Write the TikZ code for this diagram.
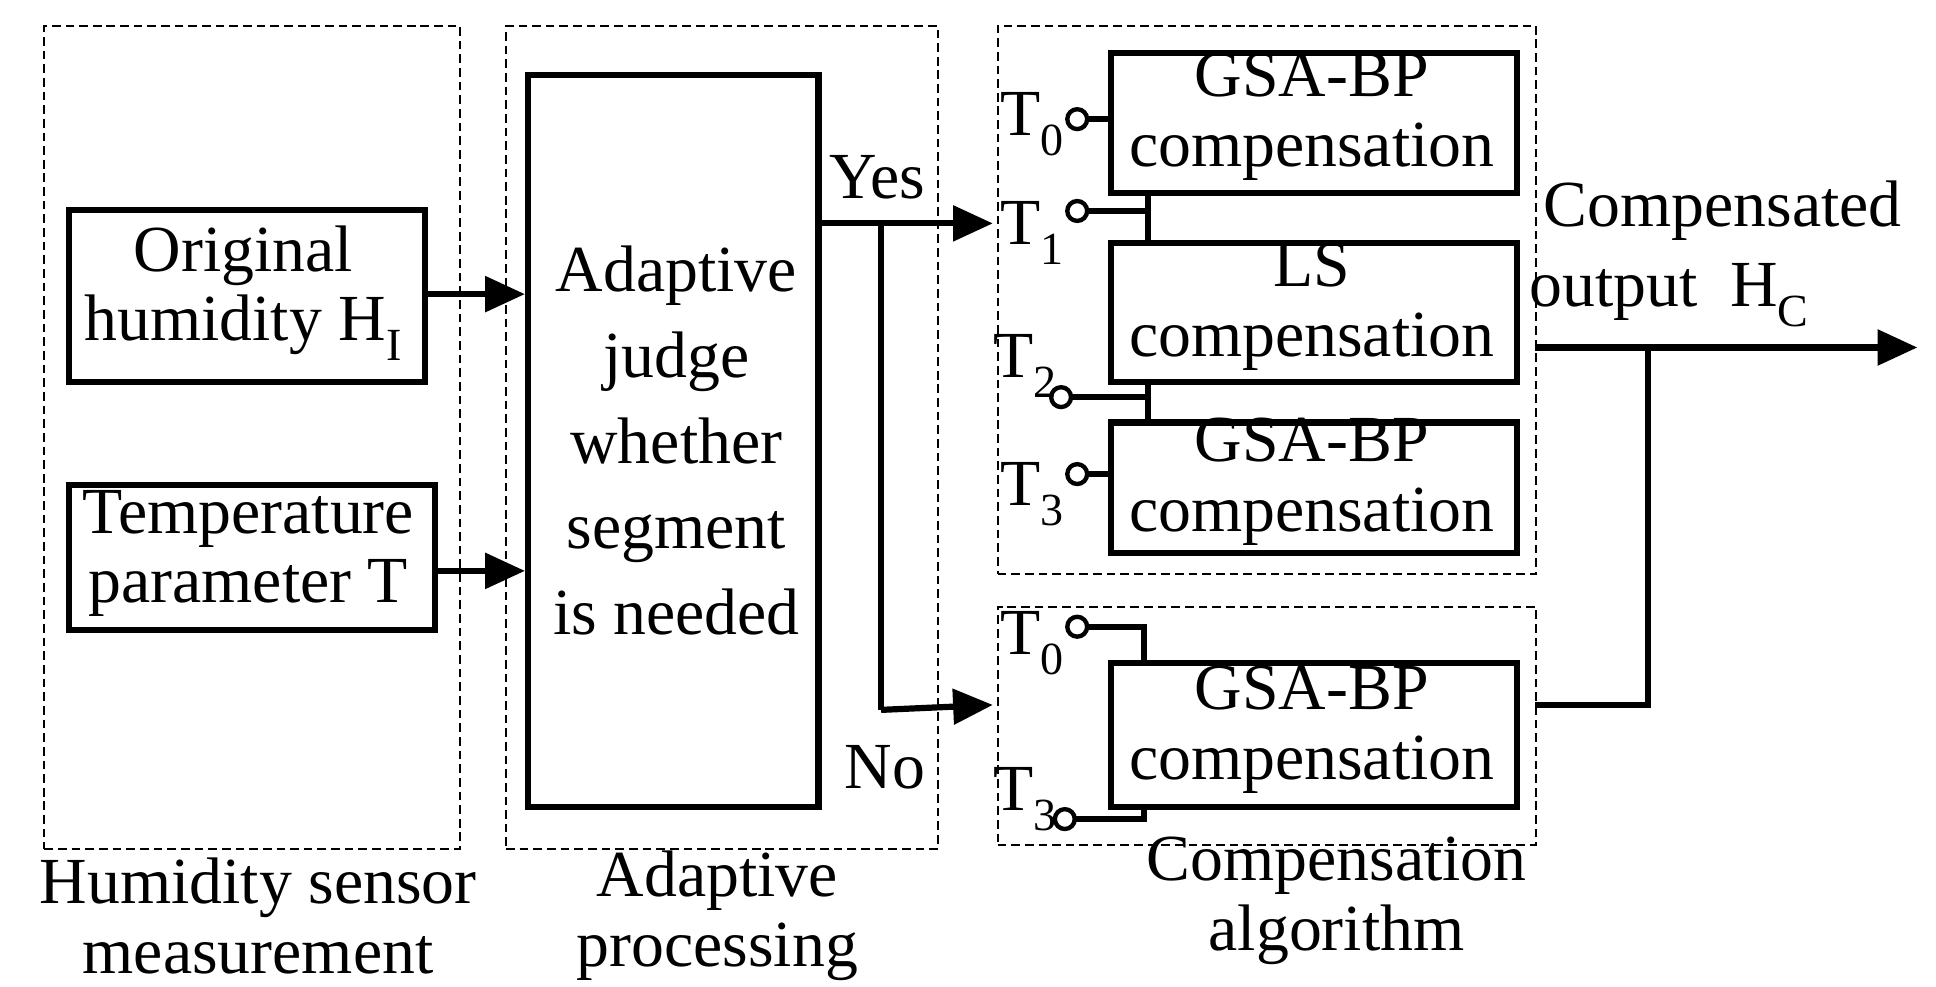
\documentclass[tikz,border=0pt]{standalone}
\usepackage{fontspec}
\setmainfont{Liberation Serif}
\usetikzlibrary{arrows.meta}
\begin{document}
\begin{tikzpicture}[x=1pt,y=-1pt,
 dbox/.style={draw,line width=1.6pt,dash pattern=on 7pt off 4pt},
 blk/.style={draw,line width=5pt,align=center,inner sep=0pt},
 txt/.style={align=center,font=\fontsize{53}{56}\selectfont,inner sep=0pt},
 ln/.style={line width=5pt},
 arr/.style={line width=5pt,-{Triangle[length=32pt,width=28pt]}},
 term/.style={circle,draw,line width=3.5pt,minimum size=16pt,inner sep=0pt,fill=white}]
\useasboundingbox (0,0) rectangle (1560,795);
\node[dbox,minimum width=335,minimum height=663,anchor=north west] (d1) at (35,20) {};
\node[dbox,minimum width=348,minimum height=663,anchor=north west] (d2) at (407,20) {};
\node[dbox,minimum width=434,minimum height=442,anchor=north west] (d3) at (803,20) {};
\node[dbox,minimum width=434,minimum height=192,anchor=north west] (d4) at (803,488) {};

\node[blk,minimum width=287,minimum height=138,anchor=north west] (orig) at (53,167) {};
\node[txt] at (196,236) {Original\\humidity H\textsubscript{I}};
\node[blk,minimum width=295,minimum height=117,anchor=north west] (temp) at (53,388) {};
\node[txt] at (200,446) {Temperature\\parameter T};
\node[blk,minimum width=234,minimum height=590,anchor=north west] (ad) at (423,58) {};
\node[txt,font=\fontsize{53}{69}\selectfont] at (545,355) {Adaptive\\judge\\whether\\segment\\is needed};

\node[blk,minimum width=327,minimum height=113,anchor=north west] (g1) at (893,40) {};
\node[txt] at (1057,94) {GSA-BP\\compensation};
\node[blk,minimum width=327,minimum height=112,anchor=north west] (ls) at (893,193) {};
\node[txt] at (1057,247) {LS\\compensation};
\node[blk,minimum width=327,minimum height=105,anchor=north west] (g3) at (893,338) {};
\node[txt] at (1057,388) {GSA-BP\\compensation};
\node[blk,minimum width=327,minimum height=116,anchor=north west] (g4) at (893,532) {};
\node[txt] at (1057,588) {GSA-BP\\compensation};

\draw[arr] (340,237) -- (423,237);
\draw[arr] (348,460) -- (423,460);
\coordinate (yes0) at (657,180);
\coordinate (br) at (710,180);
\coordinate (brd) at (710,572);
\draw[arr] (yes0) -- (800,180);
\draw[ln] (br) -- (brd);
\draw[arr] (brd) -- (800,568);
\node[txt] at (707,143) {Yes};
\node[txt] at (713,618) {No};

\coordinate (o1) at (1237,280);
\coordinate (oj) at (1328,280);
\draw[arr] (o1) -- (1545,280);
\draw[ln] (1237,568) -- (1328,568) -- (oj);
\node[txt] at (1388,170) {Compensated};
\node[txt] at (1345,238) {output \ H\textsubscript{C}};

\draw[ln] (868,96) -- (893,96);
\node[term] (t0) at (868,96) {};
\draw[ln] (868,170) -- (925,170);
\draw[ln] (925,153) -- (925,193);
\node[term] (t1) at (868,170) {};
\draw[ln] (855,320) -- (925,320);
\draw[ln] (925,305) -- (925,338);
\node[term] (t2) at (855,320) {};
\draw[ln] (868,382) -- (893,382);
\node[term] (t3) at (868,382) {};
\draw[ln] (868,505) -- (922,505) -- (922,532);
\node[term] (b0) at (868,505) {};
\draw[ln] (858,660) -- (922,660) -- (922,648);
\node[term] (b3) at (858,660) {};

\node[txt] at (832,100) {T\textsubscript{0}};
\node[txt] at (832,188) {T\textsubscript{1}};
\node[txt] at (826,295) {T\textsubscript{2}};
\node[txt] at (832,398) {T\textsubscript{3}};
\node[txt] at (832,518) {T\textsubscript{0}};
\node[txt] at (826,644) {T\textsubscript{3}};

\node[txt] at (208,738) {Humidity sensor\\measurement};
\node[txt] at (578,738) {Adaptive\\processing};
\node[txt] at (1077,726) {Compensation\\algorithm};
\end{tikzpicture}
\end{document}
